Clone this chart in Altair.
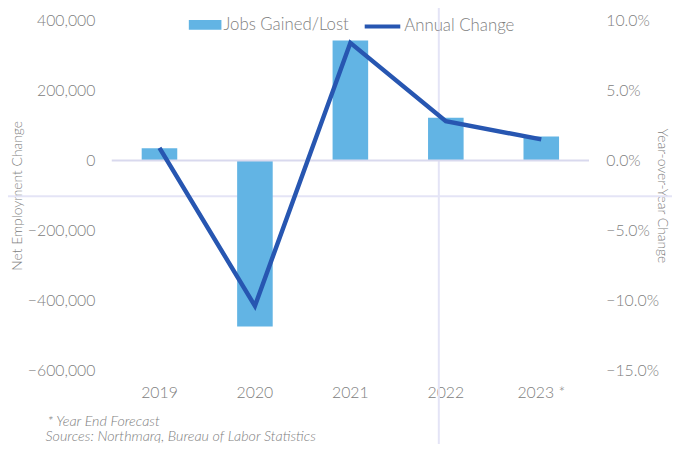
import altair as alt
import pandas as pd

years = ["2019", "2020", "2021", "2022", "2023 *"]
jobs = [35000, -475000, 343000, 122000, 68000]
pct_change = [0.009, -0.104, 0.084, 0.028, 0.015]
footnotes = ["* Year End Forecast", "Sources: Northmarq, Bureau of Labor Statistics"]

BAR = "#62B4E4"
LINE = "#2756B1"
GREY = "#808080"
FONT = "Lato"

df = pd.DataFrame({"year": years, "jobs": jobs, "pct": pct_change})
df["bar_series"] = "Jobs Gained/Lost"
df["line_series"] = "Annual Change"

W, H = 483, 354

xscale = alt.Scale(domain=years, paddingInner=0.627, paddingOuter=0.3135)
xaxis = alt.Axis(title=None, labelFontSize=16, labelColor=GREY, labelFont=FONT,
                 labelFontWeight=300, domain=False, ticks=False, grid=False,
                 labelPadding=15, labelAngle=0)

one = pd.DataFrame({"k": [0]})

guide_h = alt.Chart(one).mark_rule(color="#E4E4F6", strokeWidth=2).encode(
    x=alt.value(-113), x2=alt.value(567), y=alt.value(178))
guide_v = alt.Chart(one).mark_rule(color="#E4E4F6", strokeWidth=2).encode(
    x=alt.value(331), y=alt.value(-18), y2=alt.value(440))

bars = alt.Chart(df).mark_bar(size=36).encode(
    x=alt.X("year:N", sort=years, scale=xscale, axis=xaxis),
    y=alt.Y("jobs:Q",
            scale=alt.Scale(domain=[-600000, 400000], nice=False, zero=False),
            axis=alt.Axis(values=[-600000, -400000, -200000, 0, 200000, 400000],
                          format=",.0f", title="Net Employment Change",
                          labelFontSize=16, labelColor=GREY, labelFont=FONT,
                          labelFontWeight=300, titleFont=FONT, titleFontSize=14,
                          titleFontWeight=300, titleColor=GREY,
                          titleX=-95, titleY=H / 2, titleAngle=270,
                          titleAlign="center", titleBaseline="middle",
                          labelPadding=17, domain=False, ticks=False, grid=False)),
    color=alt.Color("bar_series:N",
                    scale=alt.Scale(domain=["Jobs Gained/Lost"], range=[BAR]),
                    legend=alt.Legend(title=None, orient="none", legendX=78, legendY=-12,
                                      symbolType="M-1,-0.3L1,-0.3L1,0.3L-1,0.3Z",
                                      symbolSize=1089, symbolStrokeWidth=0,
                                      labelFontSize=17, labelColor=GREY, labelFont=FONT,
                                      labelFontWeight=300, labelOffset=2, padding=0)),
)

zero = alt.Chart(one).mark_rule(color="#D9D9EE", strokeWidth=2).encode(
    y=alt.datum(0), x=alt.value(0), x2=alt.value(W))

left = alt.layer(guide_h, guide_v, bars, zero)

line = alt.Chart(df).mark_line(strokeWidth=4.5).encode(
    x=alt.X("year:N", sort=years, scale=xscale, axis=xaxis),
    y=alt.Y("pct:Q",
            scale=alt.Scale(domain=[-0.15, 0.10], nice=False, zero=False),
            axis=alt.Axis(orient="right", values=[-0.15, -0.10, -0.05, 0, 0.05, 0.10],
                          format=".1%", title="Year-over-Year Change",
                          labelFontSize=16, labelColor=GREY, labelFont=FONT,
                          labelFontWeight=300, titleFont=FONT, titleFontSize=14,
                          titleFontWeight=300, titleColor=GREY,
                          titleX=73, titleY=H / 2, titleAngle=90,
                          titleAlign="center", titleBaseline="middle",
                          labelPadding=17, domain=False, ticks=False, grid=False)),
    color=alt.Color("line_series:N",
                    scale=alt.Scale(domain=["Annual Change"], range=[LINE]),
                    legend=alt.Legend(title=None, orient="none", legendX=254, legendY=-14,
                                      symbolType="stroke", symbolSize=1296,
                                      symbolStrokeWidth=4,
                                      labelFontSize=17, labelColor=GREY, labelFont=FONT,
                                      labelFontWeight=300, labelOffset=2, padding=0)),
)

notes_df = pd.DataFrame({"t": footnotes, "yy": [406, 422], "xx": [-65, -67]})
notes = alt.Chart(notes_df).mark_text(align="left", baseline="middle", fontSize=14.5,
                                      font=FONT, fontStyle="italic", fontWeight=300,
                                      color=GREY).encode(
    text="t:N", x=alt.X("xx:Q", scale=None), y=alt.Y("yy:Q", scale=None))

chart = alt.layer(left, line, notes).resolve_scale(
    y="independent", color="independent"
).properties(
    width=W, height=H,
    autosize=alt.AutoSizeParams(type="none"),
    padding={"left": 105, "top": 10, "right": 84, "bottom": 72},
).configure_view(stroke=None)

chart.save("out.html", embed_options={"renderer": "svg", "actions": False})
